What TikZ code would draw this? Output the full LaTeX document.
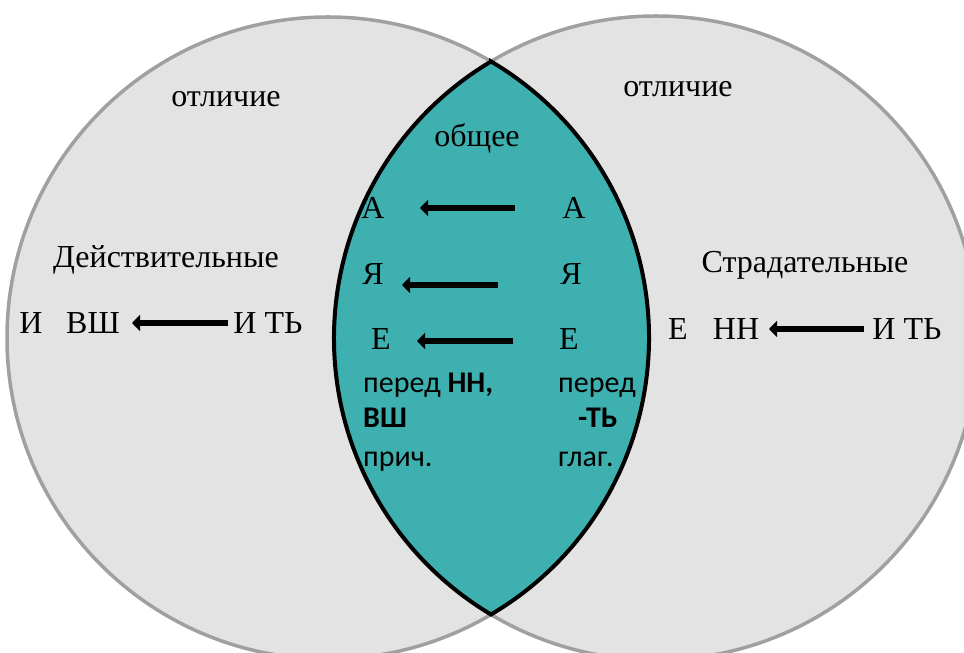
\documentclass[tikz,border=0pt]{standalone}
\usepackage{fontspec}
\setmainfont{Liberation Serif}
\newfontfamily\calib{Carlito}
\usetikzlibrary{arrows.meta}
\definecolor{circfill}{RGB}{227,227,227}
\definecolor{circline}{RGB}{160,160,160}
\definecolor{lensfill}{RGB}{62,176,176}
\begin{document}
\begin{tikzpicture}[x=1pt,y=1pt,
  serif/.style={font=\fontsize{32}{38}\selectfont, anchor=base, inner sep=0pt},
  sans/.style={font=\calib\fontsize{30}{36}\selectfont, anchor=base west, inner sep=0pt},
  circ/.style={fill=circfill, draw=circline, line width=3.5pt},
  bigarrow/.style={line width=6.5pt, -{Triangle[length=8pt,width=16pt]}}]
\useasboundingbox (0,0) rectangle (964,653);
\clip (0,0) rectangle (964,653);
% circles
\coordinate (c1) at (328,315);
\coordinate (c2) at (656,315);
\filldraw[circ] (c1) circle[radius=321];
\filldraw[circ] (c2) circle[radius=322];
% lens
\coordinate (ltop) at (491,591.5);
\filldraw[fill=lensfill, draw=black, line width=4pt]
  (ltop) arc[start angle=120.83, end angle=239.17, radius=322]
         arc[start angle=-59.48, end angle=59.48, radius=321] -- cycle;
% headings
\node[serif] (otl1) at (226,546) {отличие};
\node[serif] (otl2) at (678,556) {отличие};
\node[serif] (obsh) at (477,506) {общее};
\node[serif] (deyst) at (166,385) {Действительные};
\node[serif] (strad) at (805,380) {Страдательные};
% left row
\node[serif] (li) at (31,319) {И};
\node[serif] (lvsh) at (93,319) {ВШ};
\node[serif] (lit) at (268,319) {И ТЬ};
\coordinate (la1) at (228,330);
\coordinate (la2) at (132,330);
\draw[bigarrow] (la1) -- (la2);
% right row
\node[serif] (re) at (678,313) {Е};
\node[serif] (rnn) at (736,313) {НН};
\node[serif] (rit) at (907,313) {И ТЬ};
\coordinate (ra1) at (864,324);
\coordinate (ra2) at (769,324);
\draw[bigarrow] (ra1) -- (ra2);
% lens letters
\node[serif] (aL) at (373,434) {А};
\node[serif] (aR) at (574,434) {А};
\node[serif] (yaL) at (373,368) {Я};
\node[serif] (yaR) at (571,368) {Я};
\node[serif] (eL) at (381,303) {Е};
\node[serif] (eR) at (569,303) {Е};
\coordinate (aa1) at (515,445);
\coordinate (aa2) at (420,445);
\draw[bigarrow] (aa1) -- (aa2);
\coordinate (ya1) at (498,368);
\coordinate (ya2) at (402,368);
\draw[bigarrow] (ya1) -- (ya2);
\coordinate (ea1) at (513,312);
\coordinate (ea2) at (417,312);
\draw[bigarrow] (ea1) -- (ea2);
% sans notes
\node[sans] (pL) at (363,260) {перед \textbf{НН,}};
\node[sans] (vL) at (363,225) {\textbf{ВШ}};
\node[sans] (prL) at (363,186) {прич.};
\node[sans] (pR) at (558,260) {перед};
\node[sans] (tR) at (578,225) {\textbf{-ТЬ}};
\node[sans] (gR) at (558,186) {глаг.};
\end{tikzpicture}
\end{document}
